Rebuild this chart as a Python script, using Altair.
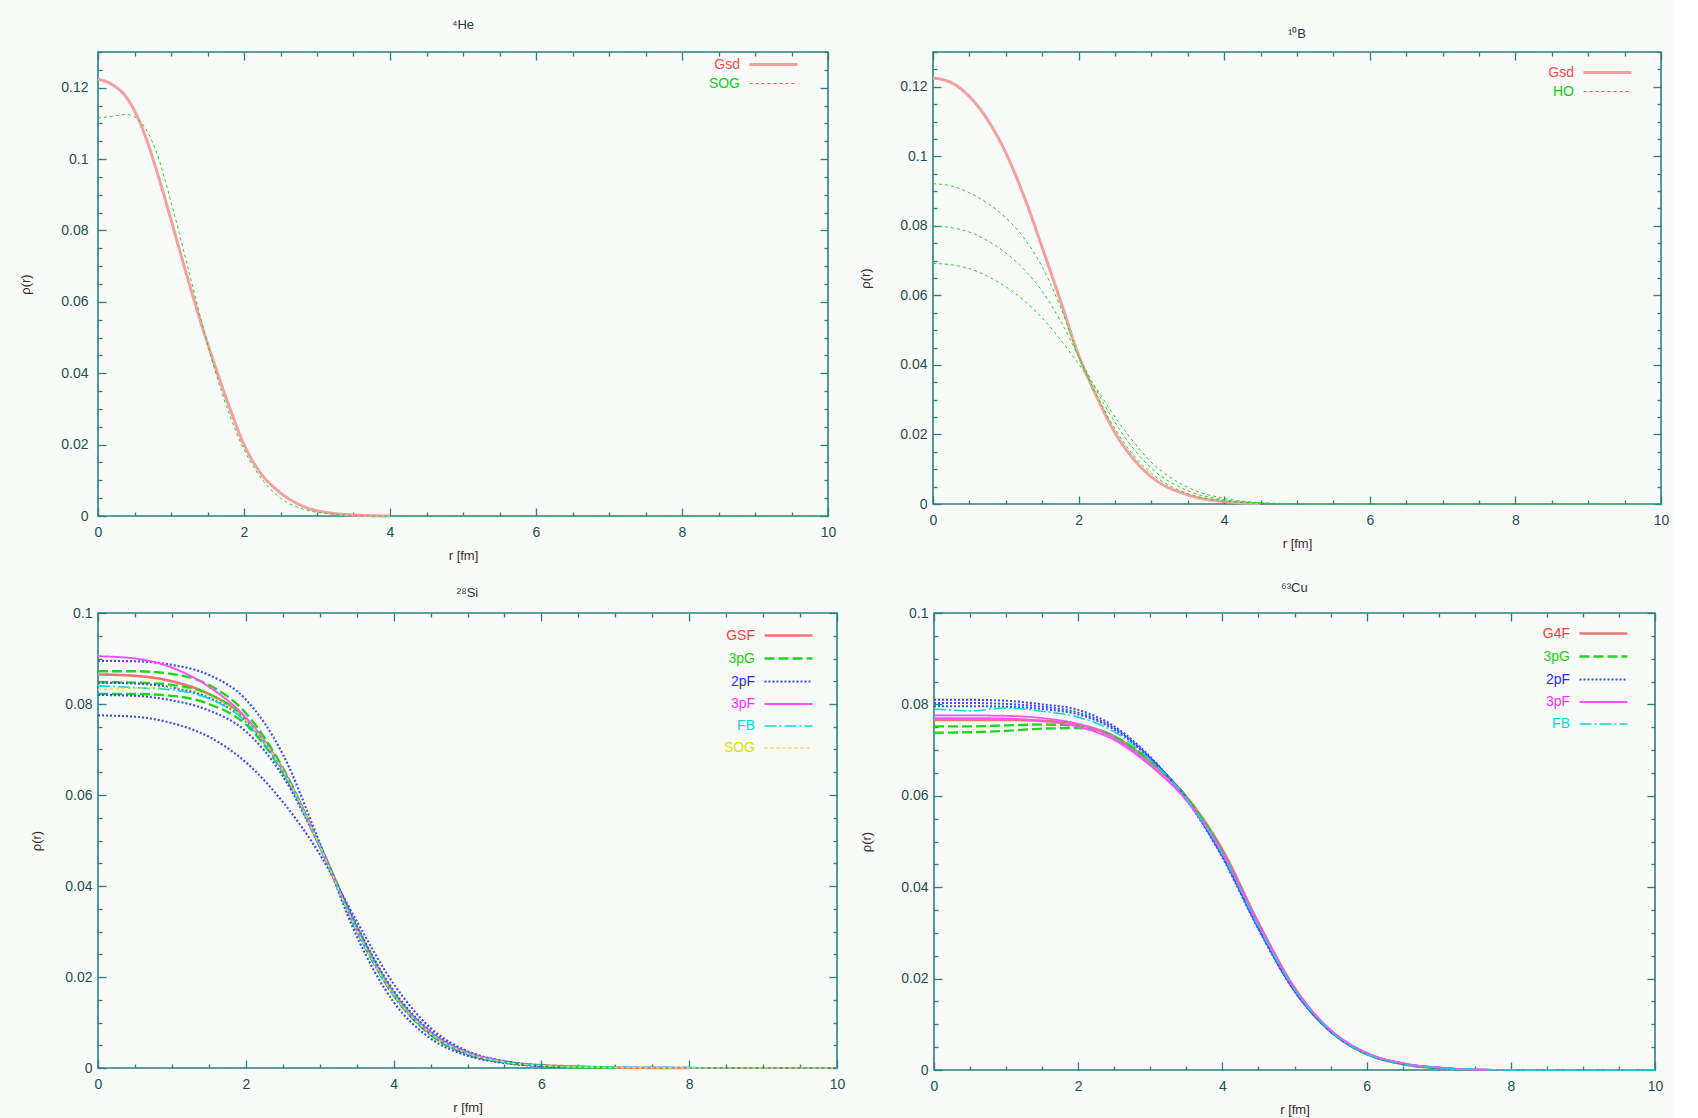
import altair as alt
import pandas as pd

FONT = "Liberation Sans"

# ----------------------------------------------------------------- data
# 4He
HE_R = [0, 0.2, 0.4, 0.6, 0.8, 1.0, 1.2, 1.4, 1.6, 1.8, 2.0, 2.2, 2.5, 2.8, 3.2, 3.6, 4.0, 5, 6, 7, 8, 9, 10]
HE_GSD = [0.1224, 0.1208, 0.1170, 0.1090, 0.0970, 0.0830, 0.0686, 0.0548, 0.0422, 0.0305, 0.0200, 0.0128,
          0.0065, 0.0028, 0.0008, 0.0002, 0.0, None, None, None, None, None, None]
HE_SOG = [0.1115, 0.1120, 0.1125, 0.1100, 0.1020, 0.0880, 0.0722, 0.0560, 0.0410, 0.0285, 0.0186, 0.0116,
          0.0050, 0.0020, 0.0006, 0.0001, 0.0, 0.0, 0.0, 0.0, 0.0, 0.0, 0.0]

# 10B
B_R = [0, 0.25, 0.5, 0.75, 1.0, 1.25, 1.5, 1.75, 2.0, 2.25, 2.5, 2.75, 3.0, 3.5, 4.0, 4.5, 5.0, 6, 7, 8, 9, 10]
B_GSD = [0.1225, 0.1212, 0.1172, 0.1105, 0.1010, 0.0885, 0.0738, 0.0585, 0.0428, 0.0308, 0.0205, 0.0130,
         0.0078, 0.0026, 0.0007, 0.0001, None, None, None, None, None, None]
B_HO1 = [0.0921, 0.0915, 0.0895, 0.0865, 0.0823, 0.0765, 0.0682, 0.0567, 0.0425, 0.0312, 0.0216, 0.0141,
         0.0088, 0.0030, 0.0009, 0.0002, 0.0, 0.0, 0.0, 0.0, 0.0, 0.0]
B_HO2 = [0.0800, 0.0795, 0.0782, 0.0757, 0.0722, 0.0675, 0.0612, 0.0527, 0.0425, 0.0325, 0.0235, 0.0160,
         0.0103, 0.0038, 0.0012, 0.0003, 0.0, None, None, None, None, None]
B_HO3 = [0.0692, 0.0688, 0.0677, 0.0655, 0.0625, 0.0585, 0.0535, 0.0473, 0.0403, 0.0330, 0.0250, 0.0180,
         0.0120, 0.0048, 0.0016, 0.0004, 0.0001, None, None, None, None, None]

# 28Si
SI_R = [0, 0.5, 1.0, 1.5, 2.0, 2.5, 3.0, 3.5, 4.0, 4.5, 5.0, 5.5, 6.0, 6.3, 7.0, 8.0, 8.2, 9, 10]
SI_GSF = [0.0865, 0.0862, 0.0850, 0.0822, 0.0768, 0.0655, 0.0490, 0.0310, 0.0165, 0.0078, 0.0034, 0.0014,
          0.0006, 0.0004, 0.0001, 0.0, None, None, None]
SI_3PG_A = [0.0872, 0.0872, 0.0866, 0.0842, 0.0780, 0.0660, 0.0488, 0.0302, 0.0160, 0.0073, 0.0030, 0.0012,
            0.0005, 0.0003, 0.0001, None, None, None, None]
SI_3PG_B = [0.0848, 0.0847, 0.0842, 0.0822, 0.0768, 0.0655, 0.0488, 0.0305, 0.0162, 0.0075, 0.0032, 0.0013,
            0.0005, 0.0003, 0.0001, None, None, None, None]
SI_3PG_C = [0.0822, 0.0822, 0.0818, 0.0800, 0.0755, 0.0650, 0.0490, 0.0310, 0.0166, 0.0078, 0.0034, 0.0014,
            0.0005, 0.0003, 0.0001, None, None, None, None]
SI_2PF_A = [0.0895, 0.0894, 0.0886, 0.0864, 0.0810, 0.0690, 0.0495, 0.0290, 0.0145, 0.0065, 0.0027, 0.0011,
            0.0004, 0.0002, None, None, None, None, None]
SI_2PF_B = [0.0847, 0.0845, 0.0836, 0.0814, 0.0762, 0.0655, 0.0488, 0.0303, 0.0160, 0.0074, 0.0031, 0.0012,
            0.0005, 0.0003, None, None, None, None, None]
SI_2PF_C = [0.0820, 0.0818, 0.0808, 0.0786, 0.0740, 0.0642, 0.0487, 0.0312, 0.0170, 0.0081, 0.0035, 0.0014,
            0.0005, 0.0003, None, None, None, None, None]
SI_2PF_D = [0.0775, 0.0772, 0.0758, 0.0728, 0.0672, 0.0585, 0.0470, 0.0323, 0.0185, 0.0088, 0.0037, 0.0015,
            0.0005, 0.0003, None, None, None, None, None]
SI_3PF = [0.0905, 0.0900, 0.0880, 0.0838, 0.0770, 0.0655, 0.0488, 0.0305, 0.0163, 0.0078, 0.0034, 0.0014,
          None, None, None, None, None, None, None]
SI_FB = [0.0840, 0.0836, 0.0831, 0.0812, 0.0762, 0.0652, 0.0487, 0.0305, 0.0162, 0.0076, 0.0032, 0.0013,
         0.0006, 0.0004, 0.0002, 0.0001, 0.0, None, None]
SI_SOG = [0.0832, 0.0835, 0.0836, 0.0818, 0.0765, 0.0655, 0.0489, 0.0303, 0.0161, 0.0075, 0.0032, 0.0013,
          0.0005, 0.0003, 0.0001, 0.0, 0.0, 0.0, 0.0]

# 63Cu
CU_R = [0, 0.5, 1.0, 1.5, 2.0, 2.5, 3.0, 3.5, 4.0, 4.5, 5.0, 5.5, 6.0, 6.5, 7.0, 7.2, 7.7, 8, 9, 10]
CU_2PF_A = [0.0810, 0.0810, 0.0808, 0.0800, 0.0788, 0.0752, 0.0685, 0.0592, 0.0465, 0.0308, 0.0172, 0.0084,
            0.0036, 0.0014, 0.0005, 0.0003, None, None, None, None]
CU_2PF_B = [0.0803, 0.0803, 0.0801, 0.0795, 0.0782, 0.0748, 0.0683, 0.0593, 0.0468, 0.0310, 0.0173, 0.0084,
            0.0036, 0.0014, 0.0005, 0.0003, None, None, None, None]
CU_2PF_C = [0.0796, 0.0796, 0.0795, 0.0790, 0.0778, 0.0745, 0.0681, 0.0594, 0.0470, 0.0312, 0.0175, 0.0085,
            0.0036, 0.0014, 0.0005, 0.0003, None, None, None, None]
CU_FB = [0.0790, 0.0786, 0.0792, 0.0785, 0.0772, 0.0740, 0.0678, 0.0595, 0.0472, 0.0314, 0.0176, 0.0085,
         0.0035, 0.0013, 0.0005, 0.0003, 0.0001, 0.0, 0.0, 0.0]
CU_3PF_A = [0.0776, 0.0776, 0.0775, 0.0770, 0.0757, 0.0726, 0.0668, 0.0591, 0.0475, 0.0318, 0.0178, 0.0087,
            0.0037, 0.0015, 0.0005, 0.0003, 0.0001, None, None, None]
CU_3PF_B = [0.0770, 0.0770, 0.0769, 0.0764, 0.0751, 0.0722, 0.0666, 0.0590, 0.0476, 0.0320, 0.0179, 0.0088,
            0.0038, 0.0015, 0.0005, 0.0003, 0.0001, None, None, None]
CU_G4F = [0.0766, 0.0766, 0.0766, 0.0764, 0.0756, 0.0730, 0.0674, 0.0598, 0.0482, 0.0322, 0.0180, 0.0086,
          0.0035, 0.0013, 0.0004, 0.0002, None, None, None, None]
CU_3PG_A = [0.0752, 0.0752, 0.0754, 0.0756, 0.0752, 0.0730, 0.0676, 0.0597, 0.0478, 0.0318, 0.0177, 0.0085,
            0.0035, 0.0013, 0.0004, None, None, None, None, None]
CU_3PG_B = [0.0738, 0.0739, 0.0742, 0.0747, 0.0748, 0.0728, 0.0676, 0.0597, 0.0478, 0.0318, 0.0177, 0.0085,
            0.0035, 0.0013, 0.0004, None, None, None, None, None]

# series styles: (line colour, dash, width, label colour)
RED_THIN = ("#f4a0a0", [1, 0], 3.0, "#ff4a4a")
GREEN_D = ("#1ed81e", [3, 3], 1.0, "#12d012")
STY_RED = ("#f37272", [1, 0], 2.6, "#ff3c3c")
STY_3PG = ("#1fd61f", [10, 4], 1.5, "#22d022")
STY_2PF = ("#3a4cff", [2, 2], 1.3, "#2a2aff")
STY_3PF = ("#ff50ff", [1, 0], 4.5, "#ff30ff")
STY_FB = ("#10d8d8", [12, 3, 2, 3], 1.3, "#00dcdc")
STY_SOG = ("#e2e23a", [3, 3], 1.6, "#e0e000")


def frame(R, curves):
    rows = []
    for series, cid, vals in curves:
        for r, v in zip(R, vals):
            if v is not None:
                rows.append({"r": r, "rho": v, "series": series, "curve": cid})
    return pd.DataFrame(rows)


XT = [i * 0.5 for i in range(21)]
XSIZE = {"condition": {"test": "datum.value % 2 == 0", "value": 8}, "value": 4}
YSIZE = {"condition": {"test": "round(datum.value * 200) % 4 == 0", "value": 8}, "value": 4}
FRAME = "#2a8080"


def panel(df, title, w, h, ymax, order, styles, leg, toff, ypad, ylp):
    yt = [round(i * 0.005, 4) for i in range(int(round(ymax / 0.005)) + 1)]
    ylab = [round(i * 0.02, 2) for i in range(int(ymax / 0.02) + 1)]
    xs = alt.Scale(domain=[0, 10], nice=False, zero=False)
    ys = alt.Scale(domain=[0, ymax], nice=False, zero=False)
    expr = "'#000'"
    for s, st in zip(reversed(order), reversed(styles)):
        expr = "datum.value == '%s' ? '%s' : %s" % (s, st[3], expr)
    lg = alt.Legend(title=None, orient="none", legendX=leg[0], legendY=leg[1],
                    symbolType="M0,0H6", symbolSize=256, labelAlign="right",
                    labelOffset=alt.ExprRef(expr="-19"), symbolOffset=40,
                    labelColor=alt.ExprRef(expr=expr), labelFontSize=14,
                    labelFont=FONT, rowPadding=leg[2])
    lines = alt.Chart(df).mark_line(interpolate="monotone").encode(
        x=alt.X("r:Q", scale=xs, axis=alt.Axis(orient="bottom", values=[0, 2, 4, 6, 8, 10], ticks=False,
                                               domain=False, labelPadding=9, labelFlush=False,
                                               title="r [fm]", titlePadding=10)),
        y=alt.Y("rho:Q", scale=ys, axis=alt.Axis(orient="left", values=ylab, format="~g", ticks=False,
                                                 domain=False, labelPadding=ylp, labelFlush=False,
                                                 title="ρ(r)", titlePadding=ypad)),
        color=alt.Color("series:N", scale=alt.Scale(domain=order, range=[s[0] for s in styles]), legend=lg),
        strokeDash=alt.StrokeDash("series:N", scale=alt.Scale(domain=order, range=[s[1] for s in styles]),
                                  legend=lg),
        strokeWidth=alt.StrokeWidth("series:N", scale=alt.Scale(domain=order, range=[s[2] for s in styles]),
                                    legend=lg),
        detail="curve:N",
    )

    def tax(orient, off, vals, size):
        return alt.Axis(orient=orient, offset=off, values=vals, labels=False, domain=False, ticks=True,
                        tickSize=size, tickColor=FRAME, tickWidth=1.3, title=None, grid=False)

    t1 = alt.Chart(df).mark_point(opacity=0, size=1).encode(
        x=alt.X("r:Q", scale=xs, axis=tax("top", -h, XT, XSIZE)),
        y=alt.Y("rho:Q", scale=ys, axis=tax("right", -w, yt, YSIZE)),
    )
    t2 = alt.Chart(df).mark_point(opacity=0, size=1).encode(
        x=alt.X("r:Q", scale=xs, axis=tax("bottom", -h, XT, XSIZE)),
        y=alt.Y("rho:Q", scale=ys, axis=tax("left", -w, yt, YSIZE)),
    )
    return alt.layer(lines, t1, t2).resolve_axis(x="independent", y="independent").properties(
        width=w, height=h,
        title=alt.TitleParams(text=title, offset=toff, fontSize=13, anchor="middle"),
    )


df1 = frame(HE_R, [("Gsd", "g", HE_GSD), ("SOG", "s", HE_SOG)])
df2 = frame(B_R, [("Gsd", "g", B_GSD), ("HO", "h1", B_HO1), ("HO", "h2", B_HO2), ("HO", "h3", B_HO3)])
df3 = frame(SI_R, [("GSF", "r", SI_GSF), ("3pG", "g1", SI_3PG_A), ("3pG", "g2", SI_3PG_B),
                   ("3pG", "g3", SI_3PG_C), ("2pF", "b1", SI_2PF_A), ("2pF", "b2", SI_2PF_B),
                   ("2pF", "b3", SI_2PF_C), ("2pF", "b4", SI_2PF_D), ("3pF", "m", SI_3PF),
                   ("FB", "c", SI_FB), ("SOG", "y", SI_SOG)])
df4 = frame(CU_R, [("G4F", "r", CU_G4F), ("3pG", "g1", CU_3PG_A), ("3pG", "g2", CU_3PG_B),
                   ("2pF", "b1", CU_2PF_A), ("2pF", "b2", CU_2PF_B), ("2pF", "b3", CU_2PF_C),
                   ("3pF", "m1", CU_3PF_A), ("3pF", "m2", CU_3PF_B), ("FB", "c", CU_FB)])

p1 = panel(df1, "⁴He", 730, 464, 0.13, ["Gsd", "SOG"], [RED_THIN, GREEN_D], (602, 3, 3), 19, 28, 10)
p2 = panel(df2, "¹⁰B", 728, 452, 0.13, ["Gsd", "HO"], [RED_THIN, GREEN_D], (601, 11, 3), 10, 27, 6)
p3 = panel(df3, "²⁸Si", 739, 455, 0.10, ["GSF", "3pG", "2pF", "3pF", "FB", "SOG"],
           [STY_RED, STY_3PG, STY_2PF, STY_3PF, STY_FB, STY_SOG], (617, 13, 6), 6, 21, 6)
p4 = panel(df4, "⁶³Cu", 721, 457, 0.10, ["G4F", "3pG", "2pF", "3pF", "FB"],
           [STY_RED, STY_3PG, STY_2PF, STY_3PF, STY_FB], (596, 11, 6), 11, 27, 6)

RES = dict(color="independent", strokeDash="independent", strokeWidth="independent")
row1 = alt.hconcat(p1, p2, spacing=21).resolve_scale(**RES).resolve_legend(**RES)
row2 = alt.hconcat(p3, p4, spacing=13).resolve_scale(**RES).resolve_legend(**RES)

chart = alt.vconcat(row1, row2, spacing=18).resolve_scale(**RES).resolve_legend(**RES).properties(
    background="#f8fbf7",
    padding={"left": 18, "top": 18, "right": 4, "bottom": 4},
).configure_view(
    stroke=FRAME, strokeWidth=1.6
).configure_axis(
    labelFont=FONT, labelFontSize=14, labelColor="#1d4f4f", titleFont=FONT, titleFontSize=13,
    titleFontWeight="normal", titleColor="#3a2a2a", grid=False
).configure_title(
    font=FONT, fontSize=14, fontWeight="normal", color="#1d3a3a"
).configure_legend(
    labelFont=FONT, labelFontSize=14
)

chart.save("out.html", embed_options={"renderer": "svg", "actions": False})
